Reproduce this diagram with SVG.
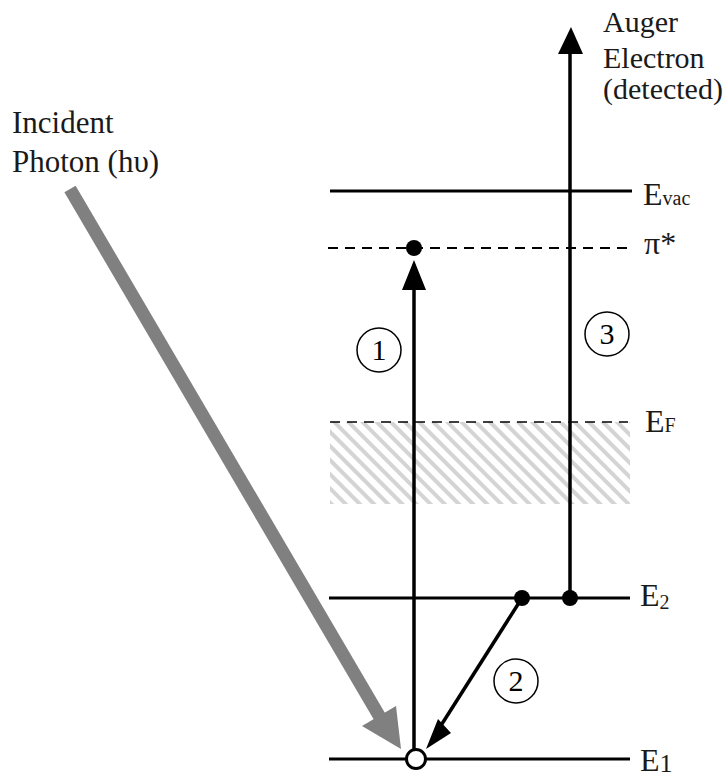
<svg xmlns="http://www.w3.org/2000/svg" width="727" height="778" viewBox="0 0 727 778">
<style>
.lvl{stroke:#000;stroke-width:3;fill:none}
.dash{stroke:#000;stroke-width:2;stroke-dasharray:10 7;fill:none}
.dashF{stroke:#000;stroke-width:1.5;stroke-dasharray:10 7;fill:none}
.arr{stroke:#000;stroke-width:3.5;fill:none}
text{font-family:'Liberation Serif',serif}
.t{font-size:30px;fill:#1a1a1a}
.t2{font-size:31px;fill:#1a1a1a}
.lab{font-size:32px;fill:#1a1a1a}
.sub{font-size:20px}
.num{font-size:30px;fill:#000;text-anchor:middle}
.circ{fill:none;stroke:#000;stroke-width:1.5}
</style>
<defs>
<pattern id="hatch" patternUnits="userSpaceOnUse" width="10" height="10" patternTransform="rotate(45)">
<rect width="10" height="10" fill="#fff"/>
<rect x="0" y="0" width="10" height="4" fill="#d4d4d4"/>
</pattern>
</defs>
<g id="band"><rect x="330" y="422" width="300" height="82" fill="url(#hatch)"/></g>
<g id="levels">
<line id="Evac" class="lvl" x1="330" y1="191" x2="632" y2="191"/>
<line id="pistar" class="dash" x1="328" y1="248" x2="630" y2="248"/>
<line id="EF" class="dashF" x1="330" y1="422" x2="628" y2="422"/>
<line id="E2" class="lvl" x1="329" y1="598" x2="630" y2="598"/>
<line id="E1" class="lvl" x1="329" y1="759" x2="630" y2="759"/>
</g>
<g id="connectors">
<line class="arr" x1="414" y1="759" x2="414" y2="290"/>
<path d="M414,260 L402,290 L426,290 Z" fill="#000"/>
<line class="arr" x1="570" y1="598" x2="570" y2="53"/>
<path d="M571,27 L558,54 L583,54 Z" fill="#000"/>
<line class="arr" x1="522" y1="598" x2="440" y2="727"/>
<path d="M426,749 L438,719 L451,733 Z" fill="#000"/>
<line x1="70" y1="189" x2="381" y2="719" stroke="#808080" stroke-width="13"/>
<path d="M401,749 L362,726 L396,706 Z" fill="#808080"/>
</g>
<g id="dots">
<circle cx="414" cy="248" r="8" fill="#000"/>
<circle cx="522" cy="598" r="8" fill="#000"/>
<circle cx="570" cy="598" r="8" fill="#000"/>
<circle cx="416" cy="759" r="9.5" fill="#fff" stroke="#000" stroke-width="3"/>
</g>
<g id="labels">
<text class="t" x="603" y="32">Auger</text>
<text class="t" x="603" y="68">Electron</text>
<text class="t" x="603" y="99">(detected)</text>
<text class="t2" x="12" y="133">Incident</text>
<text class="t2" x="12" y="172">Photon (hυ)</text>
<text class="lab" x="643" y="205">E<tspan class="sub">vac</tspan></text>
<text class="lab" x="644" y="254">π*</text>
<text class="lab" x="645" y="432">E<tspan class="sub">F</tspan></text>
<text class="lab" x="640" y="606">E<tspan class="sub" dy="3">2</tspan></text>
<text class="lab" x="640" y="771">E<tspan dy="1" style="font-size:26px">1</tspan></text>
</g>
<g id="step1"><circle class="circ" cx="379" cy="350" r="22"/><text class="num" x="379" y="360">1</text></g>
<g id="step3"><circle class="circ" cx="607" cy="334" r="22"/><text class="num" x="607" y="344">3</text></g>
<g id="step2"><circle class="circ" cx="516" cy="681" r="22"/><text class="num" x="516" y="691">2</text></g>
</svg>
